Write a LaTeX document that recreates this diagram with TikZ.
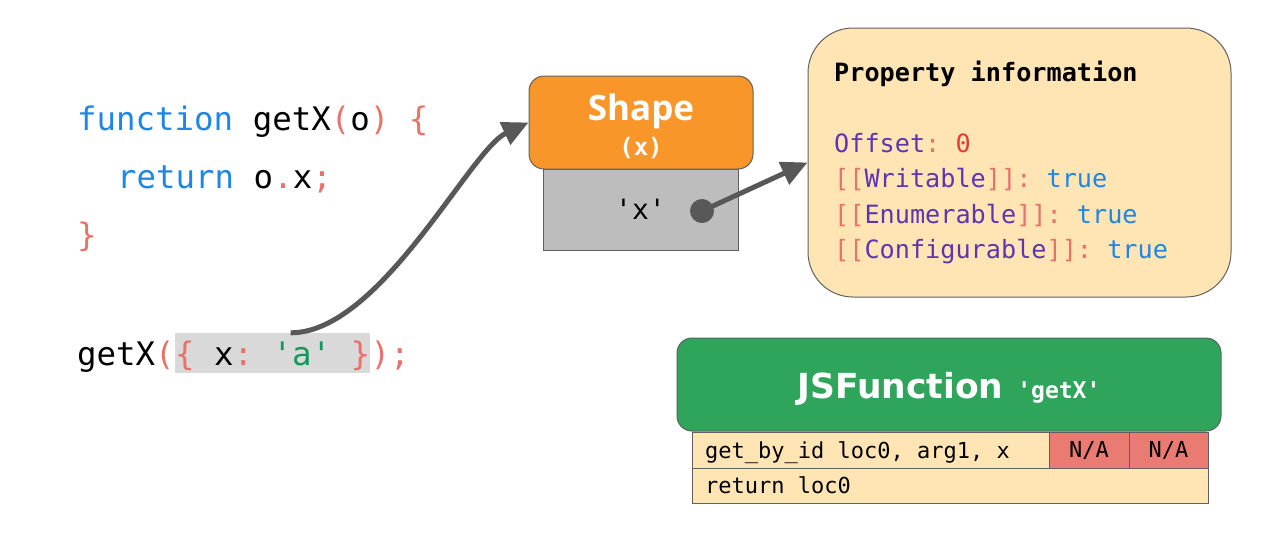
\documentclass[tikz,border=0pt]{standalone}
\usepackage{fontspec}
\setmonofont{DejaVu Sans Mono}
\newfontfamily\headfont{Open Sans}
\newfontfamily\widefont{DejaVu Sans}
\usetikzlibrary{arrows.meta,positioning}

\definecolor{kwblue}{RGB}{30,134,229}
\definecolor{punct}{RGB}{232,113,106}
\definecolor{strgreen}{RGB}{16,153,88}
\definecolor{slotname}{RGB}{94,53,177}
\definecolor{numred}{RGB}{229,57,53}
\definecolor{shapeorange}{RGB}{248,150,42}
\definecolor{slotgray}{RGB}{189,189,189}
\definecolor{peach}{RGB}{255,229,180}
\definecolor{jsgreen}{RGB}{46,165,90}
\definecolor{nacell}{RGB}{234,123,115}
\definecolor{edgegray}{RGB}{96,96,96}
\definecolor{arrowgray}{RGB}{88,88,88}
\definecolor{hilite}{RGB}{217,217,217}

\newcommand{\pc}[1]{\textcolor{punct}{#1}}
\newcommand{\attr}[1]{\pc{[[}\textcolor{slotname}{#1}\pc{]]:} \textcolor{kwblue}{true}}

\begin{document}
\begin{tikzpicture}[x=1pt,y=-1pt,
    code/.style={anchor=base west,inner sep=0pt,font=\ttfamily\fontsize{32.4}{38}\selectfont},
    prop/.style={anchor=base west,inner sep=0pt,font=\ttfamily\fontsize{25.2}{30}\selectfont},
    bc/.style={anchor=base west,inner sep=0pt,font=\ttfamily\fontsize{22}{26}\selectfont},
    box/.style={draw=edgegray,line width=1pt},
    cell/.style={draw=edgegray,line width=1pt,fill=peach,outer sep=0pt,inner sep=0pt,
        font=\ttfamily\fontsize{22}{26}\selectfont},
    link/.style={draw=arrowgray,line width=5pt,-{Triangle[length=26pt,width=24pt]}}]
    \useasboundingbox (0,0) rectangle (1280,542);

    % source code
    \node[code] (line1) at (77,130) {\textcolor{kwblue}{function} getX\pc{(}o\pc{)} \pc{\{}};
    \node[code] (line2) at (117,188) {\textcolor{kwblue}{return} o\pc{.}x\pc{;}};
    \node[code] (line3) at (77,246) {\pc{\}}};
    \node[code] (call) at (77,365) {getX\pc{(}};
    \node[code,fill=hilite,text height=32pt,text depth=8pt] (arg) at (call.base east)
        {\pc{\{} x\pc{:} \textcolor{strgreen}{'a'} \pc{\}}};
    \node[code] (callend) at (arg.base east) {\pc{);}};

    % hidden class
    \node[box,fill=slotgray,minimum width=195,minimum height=81] (slot) at (640.5,209.5) {};
    \node[font=\ttfamily\fontsize{28}{32}\selectfont] (slotkey) at (slot.center) {'x'};
    \node[box,fill=shapeorange,rounded corners=15,minimum width=224,minimum height=93] (shape) at (641,122.5) {};
    \node[anchor=base,text=white,font=\headfont\bfseries\fontsize{35}{40}\selectfont] (shapetitle) at (641,120) {Shape};
    \node[anchor=base,text=white,font=\ttfamily\bfseries\fontsize{24}{28}\selectfont] (shapekeys) at (641,155) {(x)};

    % property information
    \node[box,fill=peach,rounded corners=45,minimum width=423,minimum height=269] (info) at (1019.5,162.5) {};
    \node[prop,font=\ttfamily\bfseries\fontsize{25.2}{30}\selectfont] (infotitle) at (834,81) {Property information};
    \node[prop] (offset) at (834,152) {\textcolor{slotname}{Offset}\pc{:} \textcolor{numred}{0}};
    \node[prop] (writable) at (834,187) {\attr{Writable}};
    \node[prop] (enumerable) at (834,223) {\attr{Enumerable}};
    \node[prop] (configurable) at (834,258) {\attr{Configurable}};

    % bytecode
    \node[cell,anchor=north west,minimum width=357,minimum height=36] (op1) at (692,432) {};
    \node[cell,fill=nacell,anchor=west,minimum width=80,minimum height=36] (na1) at (op1.east) {N/A};
    \node[cell,fill=nacell,anchor=west,minimum width=79,minimum height=36] (na2) at (na1.east) {N/A};
    \node[cell,anchor=north west,minimum width=516,minimum height=35] (op2) at (op1.south west) {};
    \node[bc] (op1text) at (705,458) {get\_by\_id loc0, arg1, x};
    \node[bc] (op2text) at (705,493) {return loc0};
    \node[box,fill=jsgreen,rounded corners=15,minimum width=544,minimum height=93] (jsfn) at (949,384.5) {};
    \node[anchor=base,text=white] (jsfntitle) at (949,398)
        {{\widefont\bfseries\fontsize{34.5}{40}\selectfont JSFunction}\hspace{14pt}{\ttfamily\bfseries\fontsize{23}{27}\selectfont 'getX'}};

    % arrows
    \draw[link] ([xshift=18pt]arg.north) .. controls (380,333) and (470,150) .. (shape.west);
    \node[circle,fill=arrowgray,minimum size=24,inner sep=0pt] (dot) at (702,211) {};
    \draw[link] (dot.center) -- (info.west);
\end{tikzpicture}
\end{document}
